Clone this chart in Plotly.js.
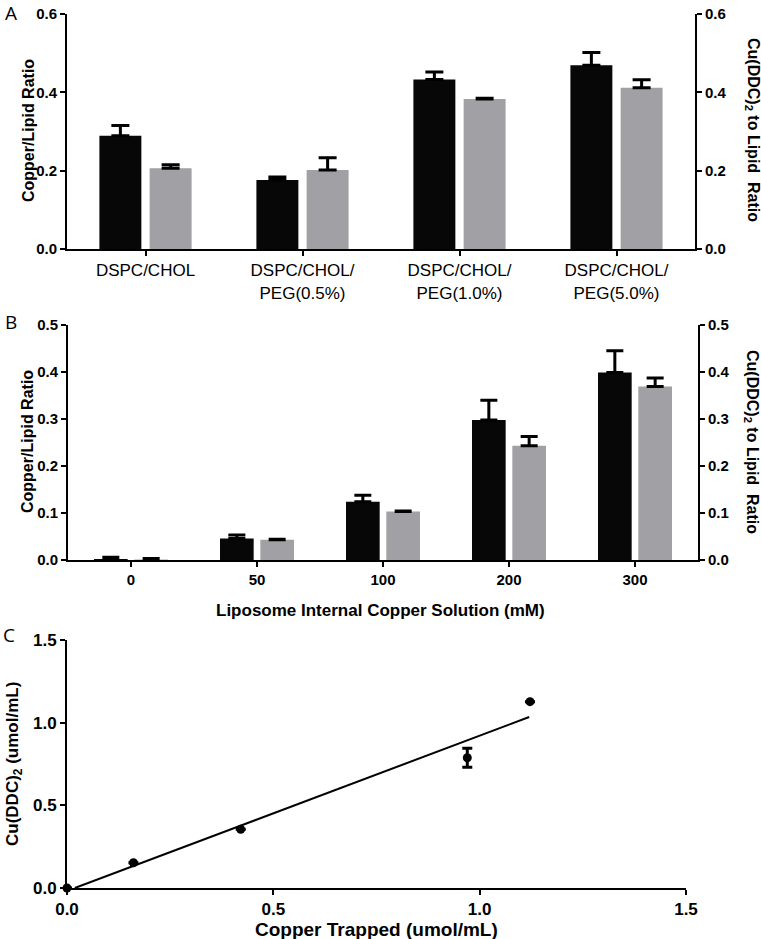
<!DOCTYPE html>
<html>
<head>
<meta charset="utf-8">
<script src="https://cdn.plot.ly/plotly-3.0.1.min.js"></script>
<style>html,body{margin:0;padding:0;background:#fff;}#chart{width:761px;height:939px;}</style>
</head>
<body>
<div id="chart"></div>
<script>
// ---- Panel A data ----
const formulations = ['DSPC/CHOL', 'DSPC/CHOL/<br>PEG(0.5%)', 'DSPC/CHOL/<br>PEG(1.0%)', 'DSPC/CHOL/<br>PEG(5.0%)'];
const aCopperLipid = [0.289, 0.176, 0.433, 0.469];
const aCopperLipidErr = [0.026, 0.008, 0.019, 0.033];
const aCuDDCLipid = [0.206, 0.202, 0.383, 0.412];
const aCuDDCLipidErr = [0.009, 0.031, 0.002, 0.020];

// ---- Panel B data ----
const copperConc = ['0', '50', '100', '200', '300'];
const bCopperLipid = [0.002, 0.046, 0.124, 0.298, 0.399];
const bCopperLipidErr = [0.004, 0.007, 0.014, 0.042, 0.046];
const bCuDDCLipid = [0.001, 0.043, 0.103, 0.243, 0.369];
const bCuDDCLipidErr = [0.002, 0.001, 0.001, 0.020, 0.018];

// ---- Panel C data ----
const copperTrapped = [0.0, 0.161, 0.421, 0.970, 1.122];
const cuDDC = [0.0, 0.153, 0.355, 0.788, 1.127];
const cuDDCErr = [0, 0, 0, 0.057, 0];
const fitX = [0.019, 1.12];
const fitY = [0.0, 1.034];

const BLACK = '#070707';
const GRAY = '#a1a1a5';
const zeros = n => new Array(n).fill(0);

const errUp = (arr, w) => ({type: 'data', symmetric: false, array: arr, arrayminus: zeros(arr.length),
  color: '#000', thickness: 3, width: w});

const traces = [
  {type: 'bar', x: formulations, y: aCopperLipid, xaxis: 'x', yaxis: 'y', marker: {color: BLACK},
   error_y: errUp(aCopperLipidErr, 9), showlegend: false, hoverinfo: 'skip'},
  {type: 'bar', x: formulations, y: aCuDDCLipid, xaxis: 'x', yaxis: 'y', marker: {color: GRAY},
   error_y: errUp(aCuDDCLipidErr, 9), showlegend: false, hoverinfo: 'skip'},
  // invisible helper so the right-hand axis of panel A is drawn
  {type: 'scatter', mode: 'markers', x: [formulations[0]], y: [0], xaxis: 'x', yaxis: 'y2',
   marker: {opacity: 0}, showlegend: false, hoverinfo: 'skip'},
  {type: 'bar', x: copperConc, y: bCopperLipid, xaxis: 'x2', yaxis: 'y3', marker: {color: BLACK},
   error_y: errUp(bCopperLipidErr, 8.5), showlegend: false, hoverinfo: 'skip'},
  {type: 'bar', x: copperConc, y: bCuDDCLipid, xaxis: 'x2', yaxis: 'y3', marker: {color: GRAY},
   error_y: errUp(bCuDDCLipidErr, 8.5), showlegend: false, hoverinfo: 'skip'},
  // invisible helper so the right-hand axis of panel B is drawn
  {type: 'scatter', mode: 'markers', x: [copperConc[0]], y: [0], xaxis: 'x2', yaxis: 'y4',
   marker: {opacity: 0}, showlegend: false, hoverinfo: 'skip'},
  {type: 'scatter', mode: 'lines', x: fitX, y: fitY, xaxis: 'x3', yaxis: 'y5',
   line: {color: '#000', width: 2}, showlegend: false, hoverinfo: 'skip'},
  {type: 'scatter', mode: 'markers', x: copperTrapped, y: cuDDC, xaxis: 'x3', yaxis: 'y5',
   marker: {color: '#000', size: 9}, cliponaxis: false,
   error_y: {type: 'data', array: cuDDCErr, color: '#000', thickness: 3, width: 5},
   showlegend: false, hoverinfo: 'skip'}
];

const FONT = 'Liberation Sans, Arial, Helvetica, sans-serif';
const tickBold = (s) => ({family: FONT, size: s, color: '#000', weight: 'bold'});
const axBase = {showline: true, linecolor: '#000', linewidth: 2, ticks: 'outside', ticklen: 5,
  tickwidth: 2, tickcolor: '#000', showgrid: false, zeroline: false, fixedrange: true};

const px = v => v / 761;
const py = v => 1 - v / 939;

const ann = (text, x, y, font, angle) => ({text: text, x: px(x), y: py(y), xref: 'paper', yref: 'paper',
  xanchor: 'center', yanchor: 'middle', showarrow: false, textangle: angle || 0, font: font});
const letterFont = {family: 'Open Sans, sans-serif', size: 19, color: '#000'};

const layout = {
  width: 761, height: 939,
  margin: {l: 0, r: 0, t: 0, b: 0},
  paper_bgcolor: '#fff', plot_bgcolor: 'rgba(0,0,0,0)',
  barmode: 'group', bargap: 0.36, bargroupgap: 0.165,
  showlegend: false,
  xaxis: Object.assign({}, axBase, {domain: [px(67), px(695)], anchor: 'y', type: 'category',
    range: [-0.5, 3.5], tickfont: {family: FONT, size: 17, color: '#000'}}),
  yaxis: Object.assign({}, axBase, {domain: [py(249), py(14)], anchor: 'x', range: [0, 0.6],
    dtick: 0.2, tickformat: '.1f', tickfont: tickBold(15)}),
  yaxis2: Object.assign({}, axBase, {overlaying: 'y', side: 'right', anchor: 'x', range: [0, 0.6],
    dtick: 0.2, tickformat: '.1f', tickfont: tickBold(15)}),
  xaxis2: Object.assign({}, axBase, {domain: [px(68), px(698)], anchor: 'y3', type: 'category',
    range: [-0.5, 4.5], tickfont: tickBold(15)}),
  yaxis3: Object.assign({}, axBase, {domain: [py(560), py(325)], anchor: 'x2', range: [0, 0.5],
    dtick: 0.1, tickformat: '.1f', tickfont: tickBold(15)}),
  yaxis4: Object.assign({}, axBase, {overlaying: 'y3', side: 'right', anchor: 'x2', range: [0, 0.5],
    dtick: 0.1, tickformat: '.1f', tickfont: tickBold(15)}),
  xaxis3: Object.assign({}, axBase, {domain: [px(67), px(686)], anchor: 'y5', range: [0, 1.5],
    dtick: 0.5, tickformat: '.1f', tickfont: tickBold(17)}),
  yaxis5: Object.assign({}, axBase, {domain: [py(888), py(640)], anchor: 'x3', range: [0, 1.5],
    dtick: 0.5, tickformat: '.1f', tickfont: tickBold(17)}),
  annotations: [
    ann('A', 11, 13, letterFont),
    ann('B', 11, 322, letterFont),
    ann('C', 9, 635, letterFont),
    ann('Copper/Lipid Ratio', 28, 131, tickBold(16), -90),
    ann('Cu(DDC)<sub>2</sub> to Lipid\u00a0\u00a0Ratio', 752, 130, tickBold(16), 90),
    ann('Copper/Lipid Ratio', 27, 442, tickBold(16), -90),
    ann('Cu(DDC)<sub>2</sub> to Lipid\u00a0\u00a0Ratio', 752, 442, tickBold(16), 90),
    ann('Liposome Internal Copper Solution (mM)', 380, 610, tickBold(17)),
    ann('Cu(DDC)<sub>2</sub> (umol/mL)', 14, 764, tickBold(17), -90),
    ann('Copper Trapped (umol/mL)', 376, 929, tickBold(19))
  ]
};

Plotly.newPlot('chart', traces, layout, {displayModeBar: false, staticPlot: true});
</script>
</body>
</html>
